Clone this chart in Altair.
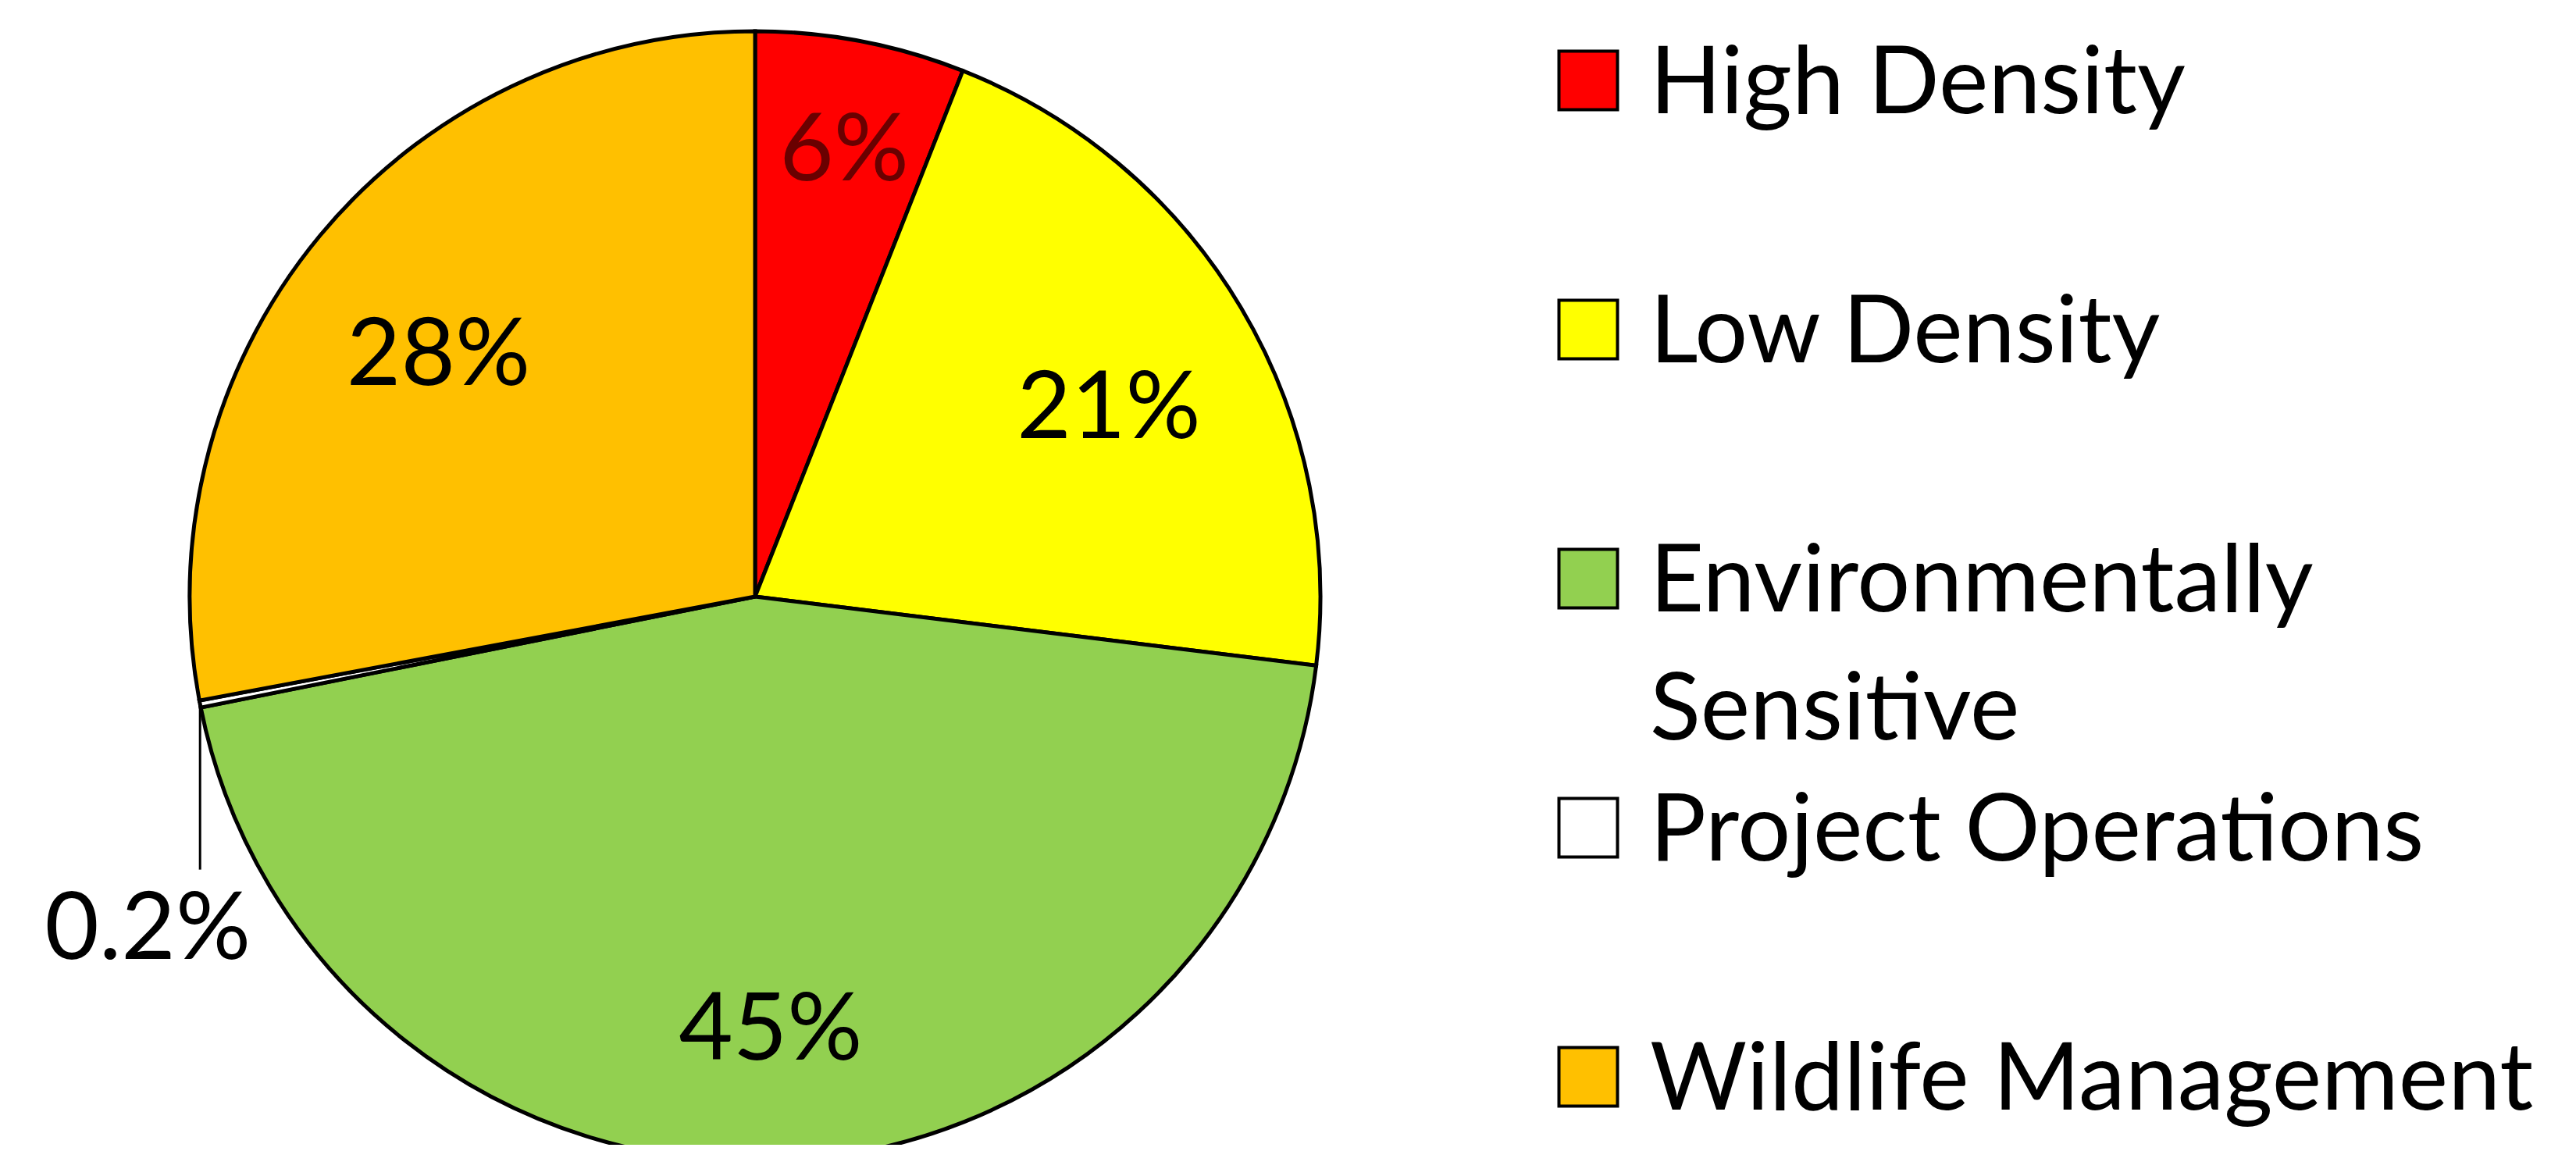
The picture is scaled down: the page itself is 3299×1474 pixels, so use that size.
import altair as alt
import pandas as pd

# ---- data ----
categories = ["High Density", "Low Density", "Environmentally Sensitive",
              "Project Operations", "Wildlife Management"]
values = [6, 21, 45, 0.2, 28]
slice_labels = ["6%", "21%", "45%", "0.2%", "28%"]
legend_labels = ["High Density", "Low Density", "Environmentally\nSensitive",
                 "Project Operations", "Wildlife Management"]
colors = ["#FF0000", "#FFFF00", "#92D050", "#FFFFFF", "#FFC000"]

df = pd.DataFrame({
    "category": categories,
    "value": values,
    "label": slice_labels,
    "legend": legend_labels,
    "order": list(range(len(categories))),
})

# ---- layout constants (view pixels) ----
W, H = 3283, 1458
CX, CY, R = 959, 756, 724
LABEL_R, NARROW_LABEL_R = 527, 610
LEG_X, LEG_TEXT_X, LEG_TOP, LEG_STEP = 2026, 2105, 95, 319
FONT = "Lato"
FS = 120

base = alt.Chart(df)
color = alt.Color("category:N", scale=alt.Scale(domain=categories, range=colors), legend=None)

pie = base.mark_arc(radius=R, stroke="black", strokeWidth=5).encode(
    theta=alt.Theta("value:Q", stack=True),
    order=alt.Order("order:Q"),
    color=color,
    x=alt.value(CX),
    y=alt.value(CY),
)


def slice_text(condition, radius, txt_color):
    return base.transform_calculate(
        txt=f"({condition}) ? datum.label : ''"
    ).mark_text(radius=radius, font=FONT, fontSize=FS, dy=30, color=txt_color).encode(
        theta=alt.Theta("value:Q", stack=True),
        order=alt.Order("order:Q"),
        detail="category:N",
        text="txt:N",
        x=alt.value(CX),
        y=alt.value(CY),
    )


wide_labels = slice_text("datum.value >= 10", LABEL_R, "black")
narrow_labels = slice_text("datum.value >= 1 && datum.value < 10", NARROW_LABEL_R, "#6a0000")

small = base.transform_joinaggregate(
    total="sum(value)"
).transform_window(
    cum="sum(value)", sort=[alt.SortField("order")], frame=[None, 0]
).transform_calculate(
    mid="2*PI*(datum.cum - datum.value/2)/datum.total"
).transform_calculate(
    px=f"{CX} + {R}*sin(datum.mid)",
    py=f"{CY} - {R}*cos(datum.mid)",
).transform_calculate(
    py2="datum.py + 212"
).transform_filter("datum.value < 1")

leader = small.mark_rule(color="black", strokeWidth=3).encode(
    x=alt.X("px:Q", scale=None, axis=None),
    y=alt.Y("py:Q", scale=None, axis=None),
    y2="py2:Q",
)

small_text = small.mark_text(font=FONT, fontSize=FS, dx=-67, dy=78, color="black").encode(
    x=alt.X("px:Q", scale=None, axis=None),
    y=alt.Y("py2:Q", scale=None, axis=None),
    text="label:N",
)

legend_base = base.transform_calculate(ly=f"{LEG_TOP} + {LEG_STEP}*datum.order")

legend_sq = legend_base.mark_square(size=75 * 75, stroke="black", strokeWidth=4, opacity=1).encode(
    x=alt.value(LEG_X),
    y=alt.Y("ly:Q", scale=None, axis=None),
    color=color,
)

legend_txt = legend_base.mark_text(
    align="left", font=FONT, fontSize=FS, lineBreak="\n", lineHeight=164, color="black", dy=6
).encode(
    x=alt.value(LEG_TEXT_X),
    y=alt.Y("ly:Q", scale=None, axis=None),
    text="legend:N",
)

chart = alt.layer(pie, wide_labels, narrow_labels, leader, small_text, legend_sq, legend_txt).properties(
    width=W, height=H, padding=0, autosize=alt.AutoSizeParams(type="none")
).configure(background="white").configure_view(strokeOpacity=0)

chart.save("out.html", embed_options={"renderer": "svg", "actions": False})
